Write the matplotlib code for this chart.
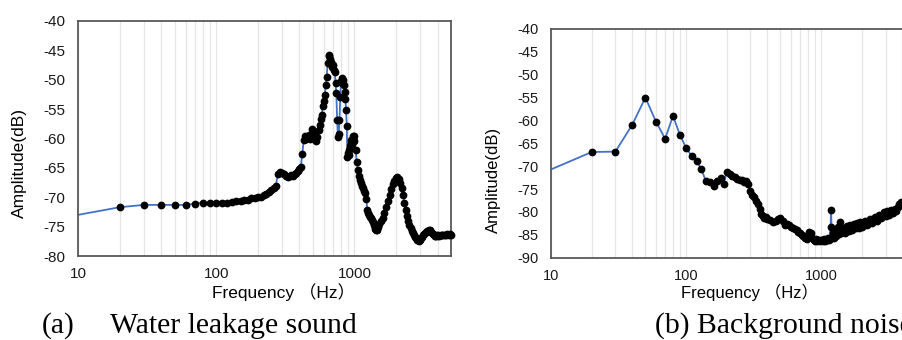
#!/usr/bin/env python3
"""
Amplitude spectra: (a) water leakage sound, (b) background noise.
"""
import matplotlib
matplotlib.use('Agg')
import matplotlib.pyplot as plt
from matplotlib.ticker import FixedLocator, FixedFormatter, LogLocator, NullFormatter

plt.rcParams['axes.unicode_minus'] = False
plt.rcParams['font.family'] = ['Liberation Sans', 'Noto Sans CJK SC']

# ---- (a) water leakage sound ----
freq_a = [10, 20, 30, 40, 50, 60, 70, 80, 90, 100,
          110, 120, 130, 140, 150, 160, 170, 180, 190, 200,
          210, 220, 230, 240, 250, 260, 270, 280, 290, 300,
          310, 320, 330, 340, 350, 360, 370, 380, 390, 400,
          410, 420, 430, 440, 450, 460, 470, 480, 490, 500,
          510, 520, 530, 540, 550, 560, 570, 580, 590, 600,
          610, 620, 630, 640, 650, 660, 670, 680, 690, 700,
          710, 720, 730, 740, 750, 760, 770, 780, 790, 800,
          810, 820, 830, 840, 850, 860, 870, 880, 890, 900,
          910, 920, 930, 940, 950, 960, 970, 980, 990, 1000,
          1020, 1040, 1060, 1080, 1100, 1120, 1140, 1160, 1180, 1200,
          1220, 1240, 1260, 1280, 1300, 1320, 1340, 1360, 1380, 1400,
          1420, 1440, 1460, 1480, 1500,
          1550, 1600, 1650, 1700, 1750, 1800, 1850, 1900, 1950, 2000,
          2050, 2100, 2150, 2200, 2250, 2300, 2350, 2400, 2450, 2500,
          2550, 2600, 2650, 2700, 2750, 2800, 2850, 2900, 2950, 3000,
          3050, 3100, 3150, 3200, 3250, 3300, 3350, 3400, 3450, 3500,
          3550, 3600, 3650, 3700, 3750, 3800, 3850, 3900, 3950, 4000,
          4100, 4200, 4300, 4400, 4500, 4600, 4700, 4800, 4900, 5000]
amp_a = [-73.0, -71.7, -71.3, -71.3, -71.3, -71.3, -71.1, -70.9, -71.0, -71.0,
         -71.0, -70.9, -70.8, -70.7, -70.6, -70.5, -70.4, -70.2, -70.2, -70.0,
         -69.9, -69.6, -69.4, -69.1, -68.8, -68.4, -68.0, -66.0, -65.7, -65.9,
         -66.0, -66.4, -66.6, -66.4, -66.2, -66.3, -66.0, -65.8, -65.5, -65.2,
         -64.8, -62.6, -60.3, -59.6, -60.0, -59.8, -59.4, -60.1, -58.3, -59.0,
         -59.8, -60.2, -60.4, -59.7, -58.6, -57.7, -56.6, -56.0, -54.5, -53.7,
         -52.6, -50.9, -49.5, -47.2, -46.0, -45.8, -46.5, -46.9, -47.8, -47.5,
         -48.3, -48.6, -50.6, -52.3, -56.9, -59.7, -59.2, -56.9, -53.0, -50.2,
         -49.7, -50.5, -50.0, -50.9, -52.0, -53.2, -55.1, -57.8, -63.1, -62.4,
         -62.8, -62.0, -61.2, -60.8, -60.3, -61.0, -60.0, -59.6, -59.5, -60.4,
         -62.0, -64.0, -65.4, -66.3, -67.1, -67.6, -68.0, -68.4, -68.9, -69.3,
         -70.3, -72.2, -72.6, -73.0, -73.3, -73.6, -73.9, -74.2, -74.7, -75.0,
         -75.4, -75.6, -75.5, -75.0, -74.6,
         -74.1, -73.6, -72.7, -71.7, -70.6, -69.6, -68.6, -67.8, -67.2, -66.7,
         -66.6, -66.9, -67.5, -68.5, -69.7, -71.0, -72.2, -73.2, -74.0, -74.7,
         -75.2, -75.7, -76.1, -76.5, -76.8, -77.0, -77.2, -77.3, -77.4, -77.3,
         -77.0, -76.7, -76.4, -76.2, -76.0, -75.9, -75.8, -75.7, -75.6, -75.6,
         -75.7, -75.9, -76.1, -76.3, -76.5, -76.6, -76.6, -76.5, -76.6, -76.5,
         -76.6, -76.4, -76.5, -76.4, -76.4, -76.5, -76.3, -76.4, -76.3, -76.4]

# ---- (b) background noise ----
freq_b = [10, 20, 30, 40, 50, 60, 70, 80, 90, 100,
          110, 120, 130, 140, 150, 160, 170, 180, 190, 200,
          210, 220, 230, 240, 250, 260, 270, 280, 290, 300,
          310, 320, 330, 340, 350, 360, 370, 380, 390, 400,
          420, 440, 460, 480, 500, 520, 540, 560, 580, 600,
          620, 640, 660, 680, 700, 720, 740, 760, 780, 800,
          820, 840, 860, 880, 900, 920, 940, 960, 980, 1000,
          1025, 1050, 1075, 1100, 1125, 1150, 1175, 1185, 1200, 1225,
          1250, 1275, 1300, 1325, 1350, 1375, 1400, 1450, 1500, 1550,
          1600, 1650, 1700, 1750, 1800, 1850, 1900, 1950, 2000, 2100,
          2200, 2300, 2400, 2500, 2600, 2700, 2800, 2900, 3000, 3100,
          3200, 3300, 3400, 3500, 3600, 3700, 3800, 3900, 4000]
amp_b = [-70.7, -66.9, -66.8, -60.9, -55.0, -60.3, -64.0, -59.0, -63.1, -66.0,
         -67.7, -68.9, -70.7, -73.2, -73.4, -74.3, -73.2, -72.6, -73.9, -71.2,
         -71.6, -72.1, -72.4, -72.8, -73.1, -73.0, -73.4, -73.2, -73.9, -75.4,
         -76.3, -76.8, -77.5, -78.3, -79.4, -80.5, -80.9, -81.3, -81.0, -81.5,
         -81.8, -82.1, -81.9, -81.6, -81.3, -82.0, -82.9, -82.6, -82.9, -83.2,
         -83.4, -83.7, -83.9, -84.3, -84.7, -85.0, -85.3, -85.7, -85.9, -85.0,
         -84.3, -84.6, -85.6, -86.1, -86.3, -86.0, -86.4, -86.1, -86.4, -86.2,
         -86.3, -86.0, -86.4, -86.1, -85.8, -86.1, -83.2, -79.5, -85.6, -84.6,
         -85.8, -84.2, -85.3, -83.2, -84.9, -82.3, -84.5, -83.4, -84.6, -83.0,
         -84.2, -82.8, -84.0, -82.6, -83.6, -82.4, -83.4, -82.2, -83.2, -82.0,
         -82.8, -81.6, -82.4, -81.2, -81.9, -80.6, -81.4, -80.0, -80.9, -79.8,
         -80.6, -79.5, -80.3, -79.4, -79.8, -78.9, -78.3, -77.8, -78.0]

W, H = 902, 340
fig = plt.figure(figsize=(W / 100, H / 100), dpi=100)

line_color = '#4472C4'
frame_color = '#595959'


def px_axes(x0, y_top, x1, y_bot):
    return fig.add_axes([x0 / W, (H - y_bot) / H, (x1 - x0) / W, (y_bot - y_top) / H])


def style(ax, freq, amp, ymin, tick_fs, clip):
    ax.plot(freq, amp, color=line_color, lw=1.3, zorder=2, clip_on=clip)
    ax.plot(freq[1:], amp[1:], 'o', color='black', ms=5.6, mec='black',
            mew=0, zorder=3, clip_on=clip)
    ax.set_xscale('log')
    ax.set_xlim(10, 5000)
    ax.set_ylim(ymin, -40)
    ax.xaxis.set_major_locator(FixedLocator([10, 100, 1000]))
    ax.xaxis.set_major_formatter(FixedFormatter(['10', '100', '1000']))
    ax.xaxis.set_minor_locator(LogLocator(base=10, subs=range(2, 10)))
    ax.xaxis.set_minor_formatter(NullFormatter())
    ax.set_yticks(range(ymin, -39, 5))
    ax.set_yticklabels([str(v) for v in range(ymin, -39, 5)])
    ax.grid(True, which='both', axis='x', color='#e6e6e6', lw=0.9, zorder=0)
    ax.tick_params(which='both', length=0, labelsize=tick_fs, colors='#1a1a1a')
    ax.tick_params(axis='y', pad=9)
    ax.tick_params(axis='x', pad=8)
    for s in ax.spines.values():
        s.set_color(frame_color)
        s.set_linewidth(1.3)


# left chart
ax1 = px_axes(78, 21, 451, 256)
style(ax1, freq_a, amp_a, -80, 11, False)
ax1.set_ylabel('Amplitude(dB)', fontsize=12.5, va='center')
ax1.yaxis.set_label_coords(-0.157, 0.396)
ax1.set_xlabel('Frequency （Hz）', fontsize=12.5, va='center')
ax1.xaxis.set_label_coords(0.55, -0.152)

# right chart (cut off by the figure edge)
ax2 = px_axes(551, 29, 915.5, 257.7)
style(ax2, freq_b, amp_b, -90, 10.5, True)
ax2.set_ylabel('Amplitude(dB)', fontsize=12, va='center')
ax2.yaxis.set_label_coords(-0.159, 0.34)
ax2.set_xlabel('Frequency （Hz）', fontsize=12, va='center')
ax2.xaxis.set_label_coords(0.546, -0.152)

# captions
cap = dict(family='Liberation Serif', fontsize=21.4, va='baseline', color='black')
fig.text(42 / W, (H - 333) / H, '(a)', **cap)
fig.text(110 / W, (H - 333) / H, 'Water leakage sound', **cap)
fig.text(655 / W, (H - 333) / H, '(b) Background noise', **cap)

fig.savefig('out.png', dpi=100)
print('Saved: out.png')
